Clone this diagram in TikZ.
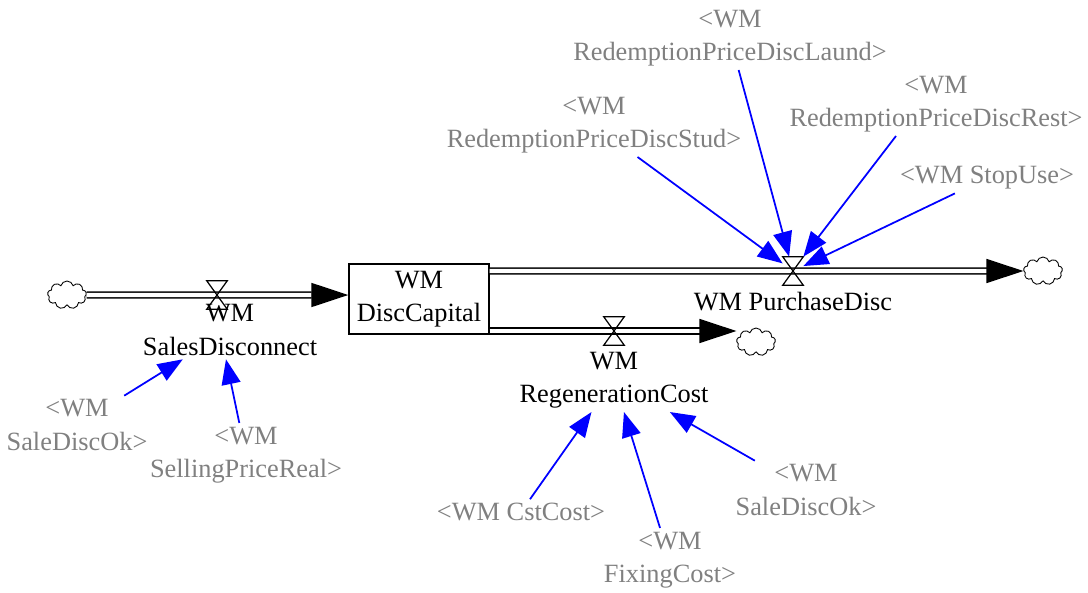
\documentclass[tikz,border=0pt]{standalone}
\usepackage{fontspec}
\setmainfont{Liberation Serif}
\usetikzlibrary{arrows.meta, positioning, shapes.symbols, calc}

\begin{document}
\begin{tikzpicture}[
  x=0.02cm, y=-0.02cm,
  every node/.style={font=\fontsize{15}{19}\selectfont},
  stock/.style={rectangle, draw, line width=0.8pt, minimum width=2.8cm, minimum height=1.4cm, align=center, inner sep=1pt},
  src/.style={cloud, cloud puffs=9, aspect=1.4, draw, line width=0.5pt, minimum width=0.78cm, minimum height=0.56cm, inner sep=0pt},
  valve/.style={minimum width=0.4cm, minimum height=0.56cm, inner sep=0pt},
  flowname/.style={align=center, inner sep=2pt},
  shadow/.style={align=center, text=gray, inner sep=2pt},
  pipe/.style={double, double distance=2.4pt, line width=0.9pt, -{Triangle[length=0.74cm, width=0.48cm]}},
  link/.style={blue, line width=1pt, -{Triangle[length=0.5cm, width=0.38cm]}}
]
  \useasboundingbox (0,0) rectangle (1088,592);

  % stock, clouds and valves
  \node[stock] (capital) at (419,299) {WM\\DiscCapital};
  \node[src] (cloudL) at (67,295) {};
  \node[src] (cloudR) at (1043,271) {};
  \node[src] (cloudD) at (756,342) {};
  \node[valve] (vSales) at (217,295) {};
  \node[valve] (vPurch) at (793,271) {};
  \node[valve] (vRegen) at (614,331) {};

  % flow names
  \node[flowname] (sales) at (230,330) {WM\\SalesDisconnect};
  \node[flowname] (purch) at (793,302) {WM PurchaseDisc};
  \node[flowname] (regen) at (614,380) {WM\\RegenerationCost};

  % shadow variables
  \node[shadow] (okA)   at (77,425)  {<WM\\SaleDiscOk>};
  \node[shadow] (sellP) at (246,455) {<WM\\SellingPriceReal>};
  \node[shadow] (cst)   at (521,512) {<WM CstCost>};
  \node[shadow] (fix)   at (670,560) {<WM\\FixingCost>};
  \node[shadow] (okB)   at (806,490) {<WM\\SaleDiscOk>};
  \node[shadow] (stud)  at (594,125) {<WM\\RedemptionPriceDiscStud>};
  \node[shadow] (laund) at (730,38)  {<WM\\RedemptionPriceDiscLaund>};
  \node[shadow] (rest)  at (936,104) {<WM\\RedemptionPriceDiscRest>};
  \node[shadow] (stop)  at (987,178) {<WM StopUse>};

  % pipes
  \draw[pipe] (cloudL) -- (cloudL -| capital.west);
  \draw[pipe] (capital.east |- cloudR) -- (cloudR);
  \draw[pipe] (capital.east |- vRegen) -- (vRegen -| cloudD.west);

  \foreach \v in {vSales, vPurch, vRegen}
    \draw[line width=0.7pt] (\v.north west) -- (\v.north east) -- (\v.south west) -- (\v.south east) -- cycle;

  % links
  \draw[link] (okA) -- (sales);
  \draw[link] (sellP) -- ($(sales.south)+(-4,0)$);
  \draw[link] (cst) -- (regen);
  \draw[link] (fix) -- (regen);
  \draw[link] (okB) -- (regen);
  \draw[link] (stud) -- (vPurch);
  \draw[link] (laund) -- (vPurch);
  \draw[link] ($(rest.south)+(-40,0)$) -- (vPurch.north east);
  \draw[link] (stop) -- (vPurch);
\end{tikzpicture}
\end{document}
